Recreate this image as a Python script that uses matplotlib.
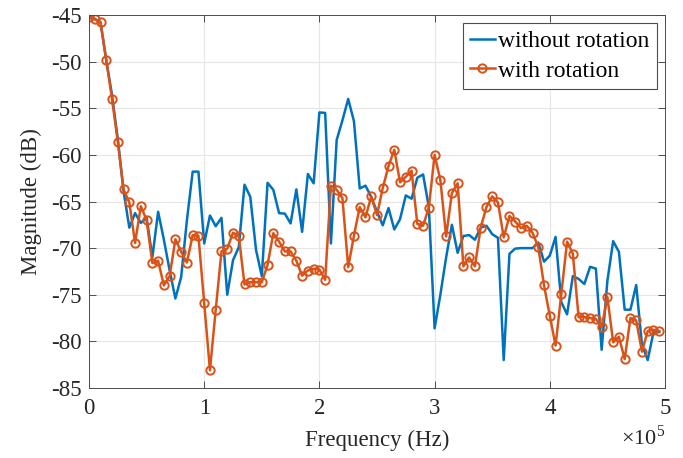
import matplotlib
matplotlib.use("Agg")
import matplotlib.pyplot as plt
from matplotlib.ticker import FuncFormatter, MultipleLocator
import numpy as np

freq_step_hz = 5000
without_rotation = [
    -45.2, -45.4, -45.8, -49.9, -53.6, -58.3, -63.9, -67.8, -66.25, -67.3,
    -66.7, -71.0, -66.1, -69.1, -72.4, -75.4, -73.1, -67.0, -61.8, -61.8,
    -69.5, -66.5, -67.65, -66.75, -75.0, -71.3, -69.9, -63.2, -64.5, -70.2,
    -73.0, -63.0, -63.75, -66.25, -66.3, -67.35, -63.7, -68.25, -62.05, -63.05,
    -55.45, -55.5, -69.5, -58.4, -56.3, -54.0, -56.4, -63.6, -63.3, -64.5,
    -66.1, -67.55, -65.7, -68.0, -66.9, -64.35, -64.7, -62.45, -62.1, -65.6,
    -78.6, -75.0, -71.0, -67.5, -70.5, -68.7, -68.6, -69.1, -67.8, -67.6,
    -68.5, -68.9, -82.0, -70.6, -70.05, -70.0, -70.0, -70.0, -69.4, -71.45,
    -70.8, -68.8, -75.8, -77.1, -73.0, -73.3, -73.85, -72.0, -72.2, -80.9,
    -73.5, -69.25, -70.4, -76.6, -76.6, -73.95, -80.35, -82.0, -79.0, -79.0,
]
with_rotation = [
    -45.25, -45.46, -45.79, -49.8, -54.0, -58.6, -63.7, -65.1, -69.45, -65.5,
    -67.0, -71.6, -71.35, -74.0, -73.0, -69.05, -70.4, -71.55, -68.6, -68.7,
    -75.9, -83.1, -76.6, -70.35, -70.05, -68.35, -68.7, -73.9, -73.65, -73.65,
    -73.65, -71.8, -68.4, -69.3, -70.35, -70.35, -71.35, -72.95, -72.4, -72.2,
    -72.3, -73.4, -63.3, -63.75, -64.65, -72.05, -68.65, -65.6, -66.7, -64.45,
    -66.45, -63.55, -61.2, -59.45, -62.95, -62.35, -61.7, -67.4, -67.6, -65.65,
    -60.0, -62.7, -68.75, -64.1, -63.05, -71.95, -71.0, -71.95, -67.8, -65.6,
    -64.45, -65.1, -68.85, -66.55, -67.15, -67.85, -67.6, -68.35, -69.9, -74.0,
    -77.25, -80.45, -74.9, -69.3, -70.6, -77.4, -77.4, -77.5, -77.6, -78.5,
    -75.25, -80.1, -79.5, -81.9, -77.5, -77.75, -81.1, -78.9, -78.75, -78.9,
]
freq_hz = np.arange(len(with_rotation)) * freq_step_hz

series_labels = ["without rotation", "with rotation"]
x_label = "Frequency (Hz)"
y_label = "Magnitude (dB)"

plt.rcParams['font.family'] = ['Liberation Serif', 'DejaVu Serif']
plt.rcParams['mathtext.fontset'] = 'custom'
plt.rcParams['mathtext.rm'] = 'Liberation Serif'

fig = plt.figure(figsize=(6.83, 4.58), dpi=100)
ax = fig.add_axes([89/683, 1-388/458, (665-89)/683, (388-15)/458])

blue = '#0072BD'
orange = '#D95319'
ax.plot(freq_hz, without_rotation, color=blue, lw=1.8, label=series_labels[0])
ax.plot(freq_hz, with_rotation, color=orange, lw=1.8, marker='o', ms=6,
        mfc='none', mec=orange, mew=1.4, label=series_labels[1])

ax.set_xlim(0, 5e5)
ax.set_ylim(-85, -45)
ax.xaxis.set_major_locator(MultipleLocator(1e5))
ax.yaxis.set_major_locator(MultipleLocator(5))
ax.xaxis.set_major_formatter(FuncFormatter(lambda v, p: f"{v/1e5:g}"))
ax.yaxis.set_major_formatter(FuncFormatter(lambda v, p: f"{v:g}".replace('\u2212', '-')))

ax.grid(True, color='#e6e6e6', lw=0.8)
ax.set_axisbelow(True)
for s in ax.spines.values():
    s.set_color('#4d4d4d')
    s.set_linewidth(0.7)
ax.tick_params(direction='in', top=True, right=True, length=5, width=0.7,
               color='#4d4d4d', labelsize=16.5, labelcolor='#262626')
ax.tick_params(axis='x', pad=7)
ax.tick_params(axis='y', pad=5)

ax.set_xlabel(x_label, fontsize=16.5, color='#262626', labelpad=8)
ax.set_ylabel(y_label, fontsize=16.5, color='#262626', labelpad=7)
ax.text(1.0, -0.152, r"$\times10^{5}$", transform=ax.transAxes, ha='right',
        va='baseline', fontsize=16, color='#262626')

leg = ax.legend(loc='upper right', fontsize=17, fancybox=False, framealpha=1,
                edgecolor='#4d4d4d', handlelength=1.05, handletextpad=0.15,
                borderpad=0.3, labelspacing=0.35, borderaxespad=0.35)
leg.get_frame().set_linewidth(0.8)

fig.savefig('out.png', dpi=100)
